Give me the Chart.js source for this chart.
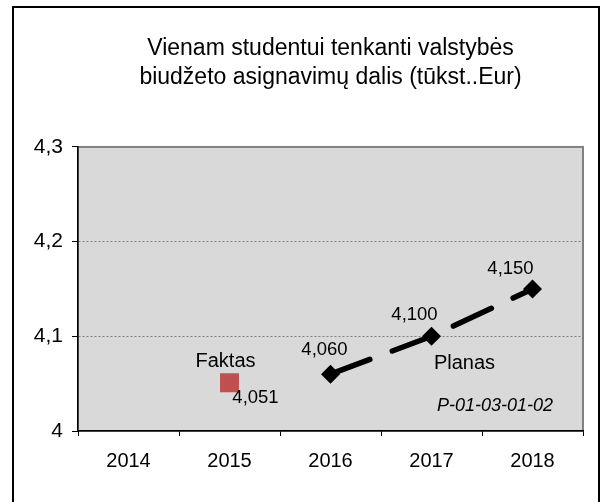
<!DOCTYPE html>
<html>
<head>
<meta charset="utf-8">
<script src="https://cdn.jsdelivr.net/npm/chart.js@4.4.1/dist/chart.umd.min.js"></script>
<style>
  html, body { margin: 0; padding: 0; background: #fff; }
  #frame { position: absolute; left: 12px; top: 6px; width: 584px; height: 520px; border: 2px solid #000; }
  #wrap { position: absolute; left: 0; top: 0; width: 608px; height: 502px; }
</style>
</head>
<body>
<div id="frame"></div>
<div id="wrap"><canvas id="chart"></canvas></div>
<script>
const years = ['2014', '2015', '2016', '2017', '2018'];
const faktas = [null, 4.051, null, null, null];
const planas = [null, null, 4.06, 4.1, 4.15];
const yMin = 4;
const yMax = 4.3;
const yStep = 0.1;
const titleLines = ['Vienam studentui tenkanti valstybės', 'biudžeto asignavimų dalis (tūkst..Eur)'];
const codeNote = 'P-01-03-01-02';

const FONT = '"Liberation Sans", Arial, sans-serif';

function comma(v, digits) {
  return v.toFixed(digits).replace('.', ',');
}

// gray plot background + thin gray frame
const plotBg = {
  id: 'plotBg',
  beforeDraw(chart) {
    const { ctx, chartArea: a } = chart;
    ctx.save();
    ctx.fillStyle = '#d9d9d9';
    ctx.fillRect(a.left, a.top, a.width, a.height);
    ctx.strokeStyle = '#808080';
    ctx.lineWidth = 2;
    ctx.strokeRect(a.left, a.top, a.width, a.height);
    ctx.restore();
  }
};

// value labels, series names and the code note
const textMarks = {
  id: 'textMarks',
  afterDatasetsDraw(chart) {
    const ctx = chart.ctx;
    const a = chart.chartArea;
    ctx.save();
    ctx.fillStyle = '#000';
    ctx.textAlign = 'center';
    ctx.textBaseline = 'middle';
    chart.data.datasets.forEach((ds, i) => {
      const meta = chart.getDatasetMeta(i);
      ctx.font = '18.5px ' + FONT;
      ds.data.forEach((v, j) => {
        if (v == null) return;
        const pt = meta.data[j];
        const off = ds.labelOffsets[j];
        ctx.fillText(comma(v, 3), pt.x + off[0], pt.y + off[1]);
      });
      const np = meta.data[ds.nameAt];
      ctx.font = '20px ' + FONT;
      ctx.fillText(ds.label, np.x + ds.nameOffset[0], np.y + ds.nameOffset[1]);
    });
    ctx.font = 'italic 18px ' + FONT;
    ctx.textAlign = 'right';
    ctx.fillText(codeNote, a.right - 30, a.bottom - 25);
    ctx.restore();
  }
};

new Chart(document.getElementById('chart'), {
  type: 'line',
  data: {
    labels: years,
    datasets: [
      {
        label: 'Planas',
        data: planas,
        borderColor: '#000',
        borderWidth: 5.5,
        borderDash: [42, 24],
        borderCapStyle: 'round',
        pointStyle: 'rectRot',
        pointRadius: 9.5,
        pointBorderWidth: 0,
        pointBackgroundColor: '#000',
        tension: 0,
        labelOffsets: [null, null, [-6, -24], [-17, -21], [-22, -20]],
        nameAt: 3,
        nameOffset: [33, 27]
      },
      {
        label: 'Faktas',
        data: faktas,
        showLine: false,
        pointStyle: 'rect',
        pointRadius: 13.4,
        pointBorderWidth: 0,
        pointBackgroundColor: '#c0504d',
        labelOffsets: [null, [26, 15], null, null, null],
        nameAt: 1,
        nameOffset: [-4, -21]
      }
    ]
  },
  options: {
    responsive: true,
    maintainAspectRatio: false,
    animation: false,
    layout: { padding: { left: 0, right: 25, top: 0, bottom: 0 } },
    plugins: {
      legend: { display: false },
      tooltip: { enabled: false },
      title: {
        display: true,
        fullSize: false,
        text: titleLines,
        color: '#000',
        font: { family: FONT, size: 23, weight: 'normal', lineHeight: 1.26 },
        padding: { top: 34.5, bottom: 54.5 }
      }
    },
    scales: {
      x: {
        offset: true,
        afterFit(scale) { scale.height = 71; },
        grid: { offset: true, color: 'rgba(0,0,0,0)', tickColor: '#000', tickLength: 5 },
        border: { color: '#000', width: 1.5 },
        ticks: { color: '#000', font: { family: FONT, size: 20 }, padding: 13, maxRotation: 0 }
      },
      y: {
        min: yMin,
        max: yMax,
        afterFit(scale) { scale.width = 78; },
        grid: {
          color: c => (c.index === 1 || c.index === 2) ? '#808080' : 'rgba(0,0,0,0)',
          tickColor: '#000',
          tickLength: 6,
          lineWidth: 1
        },
        border: { color: '#000', width: 1.5, dash: [2, 2] },
        ticks: {
          stepSize: yStep,
          color: '#000',
          padding: 9,
          font: { family: FONT, size: 21 },
          callback: v => comma(v, 1).replace(',0', '')
        }
      }
    }
  },
  plugins: [plotBg, textMarks]
});
</script>
</body>
</html>
